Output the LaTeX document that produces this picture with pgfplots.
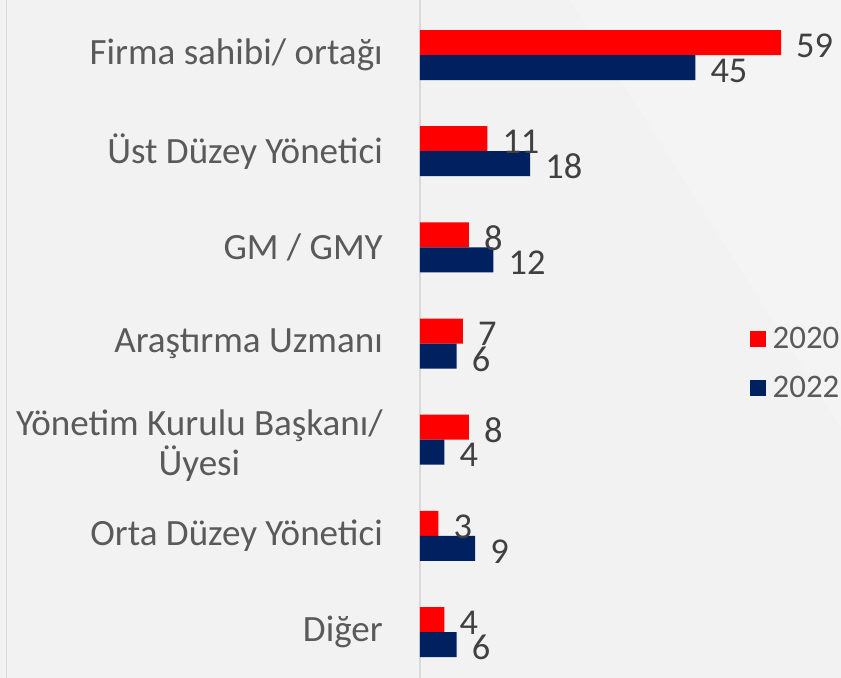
\documentclass[border=0pt]{standalone}
\usepackage{fontspec}
\setmainfont{Carlito}
\usepackage{pgfplots}
\pgfplotsset{compat=1.18}
\usetikzlibrary{backgrounds}
\definecolor{cred}{HTML}{FF0000}
\definecolor{cnavy}{HTML}{002060}
\definecolor{lab}{HTML}{5A5A5A}
\definecolor{num}{HTML}{404040}
\definecolor{bg}{HTML}{F2F2F2}
\definecolor{axgray}{HTML}{D9D9D9}
\begin{document}
\begin{tikzpicture}
\begin{axis}[
  name=ax,
  scale only axis, width=421bp, height=678bp,
  xmin=0, xmax=68.8, ymin=-0.478, ymax=6.572,
  xbar, bar width=25bp, bar shift=0pt,
  axis x line=none, axis y line=left,
  y axis line style={draw=axgray, line width=1.5bp, -},
  ytick={0,1,3,4,5,6},
  yticklabels={Diğer, Orta Düzey Yönetici, Araştırma Uzmanı, GM / GMY, Üst Düzey Yönetici, Firma sahibi/ ortağı},
  extra y ticks={2},
  extra y tick labels={{Yönetim Kurulu Başkanı/\\Üyesi}},
  extra y tick style={yticklabel style={yshift=-6bp}},
  major tick length=0pt,
  yticklabel style={font=\fontsize{37.2}{40}\selectfont, text=lab, align=center, inner sep=0pt, xshift=-37bp},
  /pgf/number format/assume math mode=true,
  nodes near coords, point meta=x,
  nodes near coords style={font=\fontsize{36.5}{38}\selectfont, text=num, anchor=west, inner sep=0pt, xshift=15bp, yshift=-3bp},
  legend style={at={(0.784,0.519)}, anchor=north west, draw=none, fill=none,
    font=\fontsize{33}{35}\selectfont, text=lab, inner sep=0pt, row sep=24bp,
    nodes={inner sep=1bp}},
  legend cell align=left,
  legend image code/.code={\fill[#1] (0bp,-8bp) rectangle (16bp,8bp);},
  /tikz/every even column/.append style={column sep=0bp},
]
\addplot[fill=cred, draw=none] coordinates {(4,0.13) (3,1.13) (8,2.13) (7,3.13) (8,4.13) (11,5.13) (59,6.13)};
\addplot[fill=cnavy, draw=none] coordinates {(6,-0.13) (9,0.87) (4,1.87) (6,2.87) (12,3.87) (18,4.87) (45,5.87)};
\legend{\,2020,\,2022}
\end{axis}
\begin{scope}[on background layer]
\fill[bg] (-420bp,0bp) rectangle (421bp,678bp);
\fill[white, opacity=0.2] (150bp,678bp) -- (421bp,678bp) -- (421bp,250bp) -- cycle;
\draw[axgray, line width=1bp] (-413bp,0bp) -- (-413bp,678bp);
\end{scope}
\pgfresetboundingbox
\path (-420bp,0bp) rectangle (421bp,678bp);
\end{tikzpicture}
\end{document}
